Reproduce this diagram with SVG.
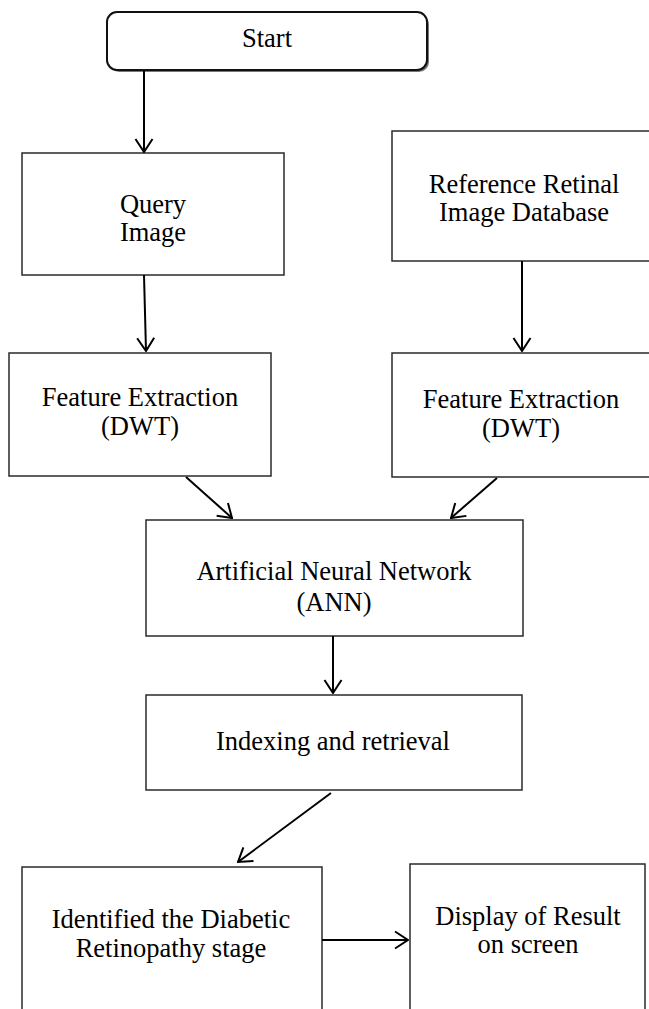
<svg xmlns="http://www.w3.org/2000/svg" width="649" height="1009" viewBox="0 0 649 1009">
  <defs>
    <!-- open V arrowhead shared by every connector -->
    <marker id="arrow" viewBox="0 0 15 20" refX="14" refY="10" markerWidth="15" markerHeight="20" markerUnits="userSpaceOnUse" orient="auto">
      <path d="M1,1.5 L14,10 L1,18.5" fill="none" stroke="#000" stroke-width="2"/>
    </marker>
  </defs>
  <style>
    .box { fill: #fff; stroke: #2a2a2a; stroke-width: 1.5; }
    .lbl { font-family: "Liberation Serif", "Times New Roman", serif; font-size: 26.5px; fill: #000; text-anchor: middle; }
    .conn line { stroke: #000; stroke-width: 2; marker-end: url(#arrow); }
  </style>
  <rect width="649" height="1009" fill="#fff"/>

  <g id="start">
    <rect x="109" y="14" width="320" height="58" rx="10" fill="#777"/>
    <rect x="107" y="12" width="320" height="58" rx="10" fill="#fff" stroke="#111" stroke-width="2"/>
    <text class="lbl" x="267" y="47">Start</text>
  </g>

  <g id="query-image">
    <rect class="box" x="22" y="153" width="262" height="122"/>
    <text class="lbl" x="153" y="213">Query</text>
    <text class="lbl" x="153" y="241">Image</text>
  </g>

  <g id="reference-db">
    <rect class="box" x="392" y="131" width="262" height="130"/>
    <text class="lbl" x="524" y="193">Reference Retinal</text>
    <text class="lbl" x="524" y="221">Image Database</text>
  </g>

  <g id="feature-left">
    <rect class="box" x="9" y="353" width="262" height="123"/>
    <text class="lbl" x="140" y="406">Feature Extraction</text>
    <text class="lbl" x="140" y="435">(DWT)</text>
  </g>

  <g id="feature-right">
    <rect class="box" x="392" y="353" width="262" height="124"/>
    <text class="lbl" x="521" y="408">Feature Extraction</text>
    <text class="lbl" x="521" y="437">(DWT)</text>
  </g>

  <g id="ann">
    <rect class="box" x="146" y="520" width="377" height="116"/>
    <text class="lbl" x="334" y="580">Artificial Neural Network</text>
    <text class="lbl" x="334" y="611">(ANN)</text>
  </g>

  <g id="indexing">
    <rect class="box" x="146" y="695" width="376" height="95"/>
    <text class="lbl" x="333" y="750">Indexing and retrieval</text>
  </g>

  <g id="identified">
    <rect class="box" x="22" y="867" width="300" height="150"/>
    <text class="lbl" x="171" y="928">Identified the Diabetic</text>
    <text class="lbl" x="171" y="957">Retinopathy stage</text>
  </g>

  <g id="display">
    <rect class="box" x="410" y="864" width="235" height="150"/>
    <text class="lbl" x="528" y="925">Display of Result</text>
    <text class="lbl" x="528" y="953">on screen</text>
  </g>

  <g id="connectors" class="conn">
    <line x1="144" y1="70" x2="144" y2="152"/>
    <line x1="144" y1="275" x2="146" y2="351"/>
    <line x1="522" y1="261" x2="522" y2="351"/>
    <line x1="186" y1="477" x2="232" y2="518"/>
    <line x1="497" y1="478" x2="451" y2="518"/>
    <line x1="333" y1="636" x2="333" y2="693"/>
    <line x1="331" y1="793" x2="238" y2="862"/>
    <line x1="322" y1="940" x2="408" y2="940"/>
  </g>
</svg>
